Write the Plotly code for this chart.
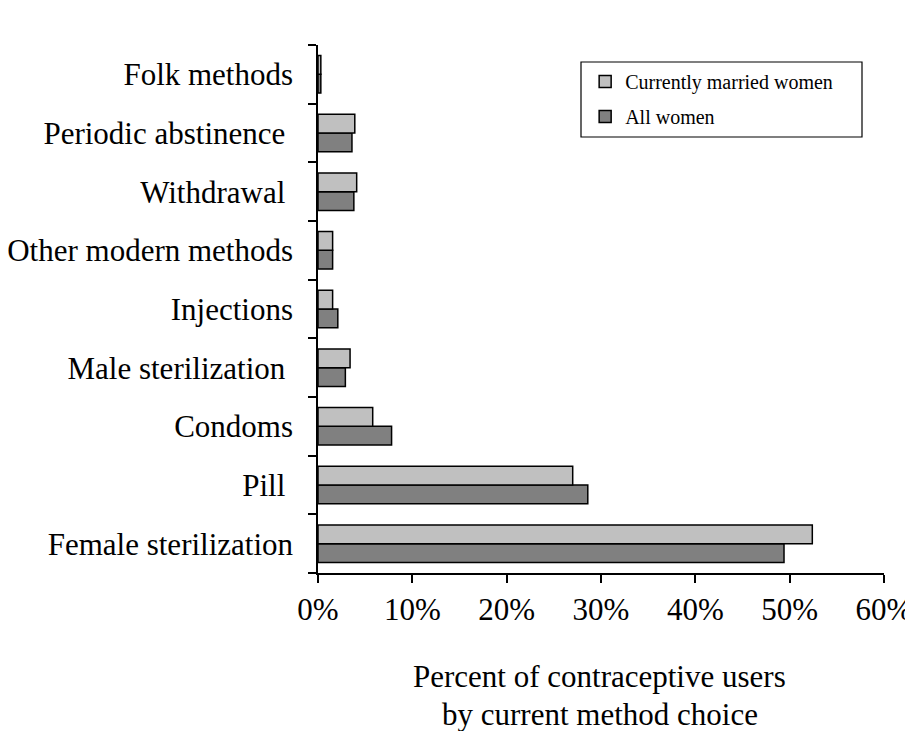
import plotly.graph_objects as go

categories = ["Female sterilization", "Pill ", "Condoms", "Male sterilization ", "Injections",
              "Other modern methods", "Withdrawal ", "Periodic abstinence ", "Folk methods"]
married = [52.4, 27.0, 5.8, 3.4, 1.55, 1.55, 4.1, 3.9, 0.3]
all_women = [49.4, 28.6, 7.8, 2.9, 2.1, 1.55, 3.8, 3.6, 0.3]
x_ticks = [0, 10, 20, 30, 40, 50, 60]
x_tick_labels = ["0%", "10%", "20%", "30%", "40%", "50%", "60%"]

FONT = "Liberation Serif"

fig = go.Figure()
fig.add_trace(go.Bar(y=categories, x=all_women, orientation="h", name="All women",
                     legendgroup="b", legendrank=2,
                     marker=dict(color="#808080", line=dict(color="black", width=1.5))))
fig.add_trace(go.Bar(y=categories, x=married, orientation="h", name="Currently married women",
                     legendgroup="a", legendrank=1,
                     marker=dict(color="#C0C0C0", line=dict(color="black", width=1.5))))

fig.update_layout(
    width=905, height=723,
    margin=dict(l=310, r=29, t=37, b=158),
    paper_bgcolor="white", plot_bgcolor="white",
    barmode="group", bargap=0.36, bargroupgap=0.0,
    font=dict(family=FONT, color="black", size=31),
    legend=dict(x=0.472, y=0.968, xanchor="left", yanchor="top",
                traceorder="grouped", tracegroupgap=6,
                font=dict(family=FONT, size=20, color="black"),
                bgcolor="rgba(0,0,0,0)", borderwidth=0),
    showlegend=True,
)
fig.update_xaxes(range=[0, 60], tickvals=x_ticks, ticktext=x_tick_labels,
                 showline=True, linecolor="black", linewidth=1.5,
                 ticks="outside", ticklen=8, tickcolor="black", tickwidth=1.5,
                 showgrid=False, zeroline=False, ticklabelstandoff=0, automargin=False,
                 tickfont=dict(size=31, family=FONT))
fig.update_yaxes(showline=True, linecolor="black", linewidth=1.5,
                 ticks="outside", ticklen=8, tickcolor="black", tickwidth=1.5,
                 tickson="boundaries", showgrid=False, ticklabelstandoff=17, automargin=False,
                 tickfont=dict(size=31, family=FONT))

# legend box
fig.add_shape(type="rect", xref="paper", yref="paper",
              x0=(581 - 318) / 566, x1=(862 - 318) / 566,
              y0=(573 - 137) / 528, y1=(573 - 62) / 528,
              line=dict(color="black", width=1.2), fillcolor="rgba(0,0,0,0)")

fig.add_annotation(text="Percent of contraceptive users", xref="paper", yref="paper",
                   x=0.498, y=-103 / 528, xanchor="center", yanchor="middle",
                   showarrow=False, font=dict(size=31, family=FONT))
fig.add_annotation(text="by current method choice", xref="paper", yref="paper",
                   x=0.498, y=-141 / 528, xanchor="center", yanchor="middle",
                   showarrow=False, font=dict(size=31, family=FONT))

fig.write_html("out.html")
